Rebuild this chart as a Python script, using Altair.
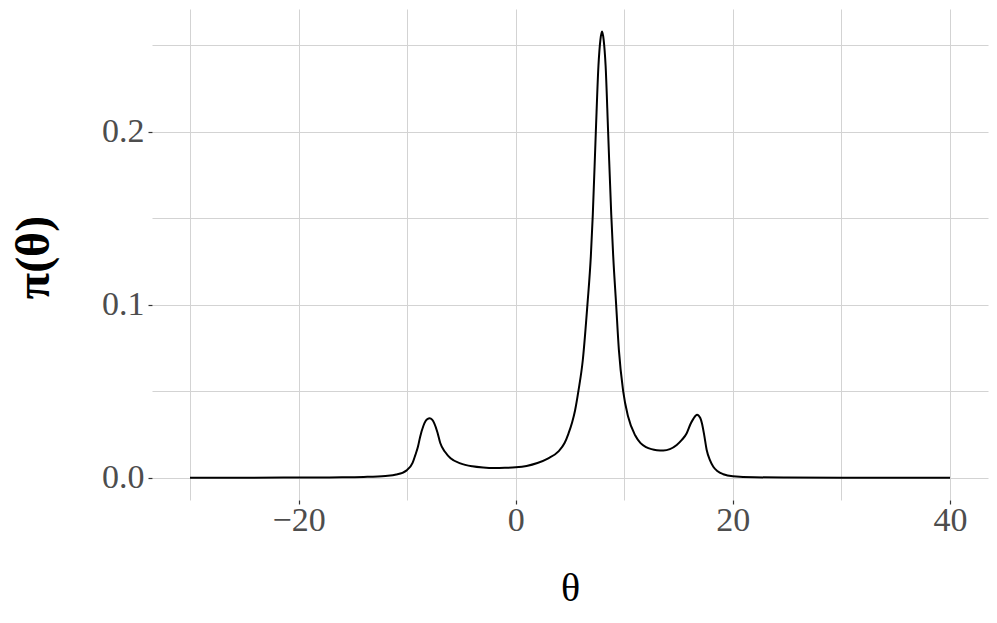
import altair as alt
import pandas as pd

# values
theta = [-30, -25, -20, -16, -14, -12, -11, -10, -9.5, -9.25, -9.0, -8.8, -8.5, -8.3,
         -8.1, -7.93, -7.7, -7.5, -7.2, -6.95, -6.5, -6.0, -5.1, -4.0, -3.0, -2.0,
         -1.0, 0.0, 1.0, 2.0, 3.0, 3.94, 4.5, 4.86, 5.2, 5.47, 5.78,
         6.18, 6.61, 6.92, 7.1, 7.38, 7.62, 7.8, 7.95, 8.1, 8.28, 8.51, 8.8, 8.98,
         9.25, 9.5, 9.89, 10.35, 11.0, 11.5, 12.0, 12.5, 13.0, 13.6, 14.2, 14.83,
         15.3, 15.75, 16.1, 16.36, 16.7, 17.0, 17.15, 17.35, 17.59, 17.9, 18.2, 18.6,
         19.12, 20.0, 22.0, 25.0, 30.0, 40.0]
density = [0.0, 0.0, 0.0001, 0.0002, 0.0004, 0.0010, 0.0018, 0.0045, 0.0085, 0.013,
           0.018, 0.0237, 0.030, 0.0328, 0.0340, 0.0343, 0.0335, 0.0314, 0.026, 0.020,
           0.0148, 0.0112, 0.0083, 0.0066, 0.0059, 0.0056, 0.0057, 0.0060, 0.0068,
           0.0085, 0.0112, 0.0152, 0.0200, 0.0255, 0.032, 0.039, 0.0503,
           0.068, 0.1004, 0.128, 0.152, 0.200, 0.238, 0.253, 0.2578, 0.253, 0.238,
           0.200, 0.152, 0.128, 0.100, 0.074, 0.0503, 0.0353, 0.0245, 0.0200, 0.0177,
           0.0165, 0.0159, 0.0157, 0.0165, 0.0189, 0.0218, 0.0257, 0.0310, 0.0340,
           0.0364, 0.0345, 0.0314, 0.0250, 0.0160, 0.0100, 0.0063, 0.0037, 0.0020,
           0.0008, 0.0002, 0.0001, 0.0, 0.0]

x_grid = [-30, -20, -10, 0, 10, 20, 30, 40]
y_grid = [0.0, 0.05, 0.1, 0.15, 0.2, 0.25]

df = pd.DataFrame({"theta": theta, "density": density})

FONT = "Liberation Serif"
GRID = "#d3d3d3"

x_axis = alt.Axis(
    values=x_grid,
    grid=True, gridColor=GRID, gridWidth=1,
    domain=False,
    ticks=True, tickSize=4, tickWidth=1.2, tickColor="#333333",
    tickOpacity={"condition": {"test": "datum.value % 20 == 0", "value": 1}, "value": 0},
    labelExpr="datum.value % 20 == 0 ? format(datum.value, 'd') : ''",
    labelFont=FONT, labelFontSize=34, labelColor="#4d4d4d", labelPadding=-1,
    labelFlush=False, labelOverlap=False,
    title="θ", titleFont=FONT, titleFontSize=40, titleFontWeight="normal",
    titleColor="black", titleX=418, titleY=100, titleAlign="center",
    titleBaseline="alphabetic",
)

y_axis = alt.Axis(
    values=y_grid,
    grid=True, gridColor=GRID, gridWidth=1,
    domain=False,
    ticks=True, tickSize=4, tickWidth=1.2, tickColor="#333333",
    tickOpacity={"condition": {"test": "abs(datum.value*10 - round(datum.value*10)) < 1e-6", "value": 1}, "value": 0},
    labelExpr="abs(datum.value*10 - round(datum.value*10)) < 1e-6 ? format(datum.value, '.1f') : ''",
    labelFont=FONT, labelFontSize=34, labelColor="#4d4d4d", labelPadding=4,
    labelFlush=False, labelOverlap=False,
    title="π(θ)", titleFont=FONT, titleFontSize=48, titleFontWeight="bold",
    titleColor="black", titleX=-104, titleY=248, titleAngle=270, titleAlign="center",
    titleBaseline="alphabetic",
)

chart = alt.Chart(df).mark_line(color="black", strokeWidth=2, interpolate="monotone").encode(
    x=alt.X("theta:Q", scale=alt.Scale(domain=[-33.5, 43.5], nice=False, zero=False), axis=x_axis),
    y=alt.Y("density:Q", scale=alt.Scale(domain=[-0.0129, 0.2708], nice=False, zero=False), axis=y_axis),
).properties(
    width=836, height=491,
    autosize=alt.AutoSizeParams(type="none"),
    padding={"left": 144, "top": 1, "right": 1, "bottom": 115},
).configure(background="white").configure_view(strokeWidth=0, stroke="transparent")

chart.save("out.html", embed_options={"renderer": "svg", "actions": False})
